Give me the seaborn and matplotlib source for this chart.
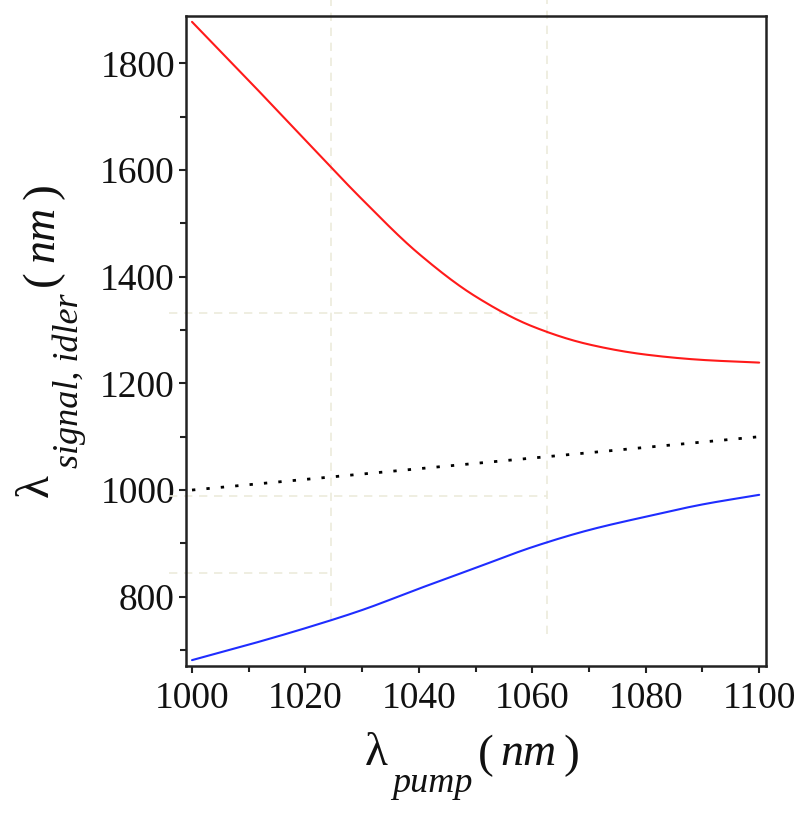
import matplotlib
matplotlib.use("Agg")
import matplotlib.pyplot as plt
import seaborn as sns
import pandas as pd
import numpy as np
from matplotlib.ticker import MultipleLocator

# ---- data ----
pump = [1000, 1010, 1020, 1030, 1040, 1050, 1060, 1070, 1080, 1090, 1100]
signal_red = [1878, 1768, 1656, 1545, 1443, 1363, 1307, 1273, 1254, 1244, 1239]
idler_blue = [681, 710, 741, 775, 815, 854, 893, 925, 950, 973, 991]

pump_diag = [1000, 1100]
diag_vals = [1000, 1100]

# faint guide lines (x positions / y levels)
guide_v_x = [1024.5, 1062.5]
guide_v_ymin = [755, 730]
guide_h_y = [1332, 989, 844]
guide_h_xmax = [1062.5, 1062.5, 1024.5]

x_major = [1000, 1020, 1040, 1060, 1080, 1100]
y_major = [800, 1000, 1200, 1400, 1600, 1800]

sns.set_theme(style="ticks")
plt.rcParams["font.family"] = ["Liberation Serif", "DejaVu Serif"]

fig = plt.figure(figsize=(8, 8.16), dpi=100)
ax = fig.add_axes([186 / 800, 1 - 666 / 816, 580 / 800, 650 / 816])

xlo, xhi = 998.94, 1101.2
ylo, yhi = 670, 1889


def smooth(xs, ys, n=400):
    """Monotone cubic (Fritsch-Carlson) curve through the read points."""
    xs = np.asarray(xs, float); ys = np.asarray(ys, float)
    h = np.diff(xs); d = np.diff(ys) / h
    m = np.zeros_like(ys)
    m[0], m[-1] = d[0], d[-1]
    for i in range(1, len(xs) - 1):
        if d[i - 1] * d[i] <= 0:
            m[i] = 0
        else:
            w1 = 2 * h[i] + h[i - 1]; w2 = h[i] + 2 * h[i - 1]
            m[i] = (w1 + w2) / (w1 / d[i - 1] + w2 / d[i])
    xx = np.linspace(xs[0], xs[-1], n)
    idx = np.clip(np.searchsorted(xs, xx) - 1, 0, len(xs) - 2)
    t = (xx - xs[idx]) / h[idx]
    h00 = 2 * t**3 - 3 * t**2 + 1; h10 = t**3 - 2 * t**2 + t
    h01 = -2 * t**3 + 3 * t**2; h11 = t**3 - t**2
    yy = h00 * ys[idx] + h10 * h[idx] * m[idx] + h01 * ys[idx + 1] + h11 * h[idx] * m[idx + 1]
    return pd.DataFrame({"pump": xx, "val": yy})


# guides
gcol = "#ecebdc"
for gx, gy0 in zip(guide_v_x, guide_v_ymin):
    ax.plot([gx, gx], [gy0, 1925], color=gcol, lw=1.2, dashes=(5, 4), clip_on=False, zorder=1)
for gy, gx1 in zip(guide_h_y, guide_h_xmax):
    ax.plot([996.0, gx1], [gy, gy], color=gcol, lw=1.2, dashes=(5, 4), clip_on=False, zorder=1)

sns.lineplot(data=smooth(pump, signal_red), x="pump", y="val", ax=ax,
             color="#ff1a1a", lw=1.5, zorder=3)
sns.lineplot(data=smooth(pump, idler_blue), x="pump", y="val", ax=ax,
             color="#1f2dff", lw=1.5, zorder=3)
sns.lineplot(data=pd.DataFrame({"pump": pump_diag, "val": diag_vals}), x="pump", y="val",
             ax=ax, color="black", lw=2.0, zorder=3)
ax.lines[-1].set_dashes((1.2, 4))
ax.lines[-1].set_dash_capstyle("butt")

ax.set_xlim(xlo, xhi)
ax.set_ylim(ylo, yhi)
ax.set_xticks(x_major)
ax.set_yticks(y_major)
ax.xaxis.set_minor_locator(MultipleLocator(10))
ax.yaxis.set_minor_locator(MultipleLocator(100))
ax.tick_params(axis="both", which="major", direction="out", length=5, width=1.5,
               labelsize=27, color="#222222", labelcolor="#111111")
ax.tick_params(axis="x", which="major", pad=6)
ax.tick_params(axis="y", which="major", pad=3)
ax.tick_params(axis="both", which="minor", direction="out", length=4, width=1.5, color="#222222")
ax.tick_params(top=False, right=False, which="both")
ax.set_xlabel("")
ax.set_ylabel("")

for s in ax.spines.values():
    s.set_visible(True)
    s.set_linewidth(1.8)
    s.set_color("#222222")

# ---- axis labels composed of pieces (pixel positions, origin top-left) ----
H = 816
def ptext(x, y, s, size, style="normal", rot=0):
    fig.text(x / 100, (H - y) / 100, s, transform=fig.dpi_scale_trans,
             fontsize=size, style=style, rotation=rot, rotation_mode="anchor",
             ha="left", va="baseline", color="#111111")

# x label
ptext(365, 765, "λ", 34)
ptext(392, 792, "pump", 26, "italic")
ptext(478, 767, "(", 34)
ptext(500, 765, "nm", 33, "italic")
ptext(563, 767, ")", 34)

# y label (rotated)
ptext(48, 497, "λ", 34, rot=90)
ptext(78, 468, "signal, idler", 26, "italic", rot=90)
ptext(54, 286, "(", 34, rot=90)
ptext(53, 262, "nm", 33, "italic", rot=90)
ptext(54, 199, ")", 34, rot=90)

fig.savefig("out.png", dpi=100)
